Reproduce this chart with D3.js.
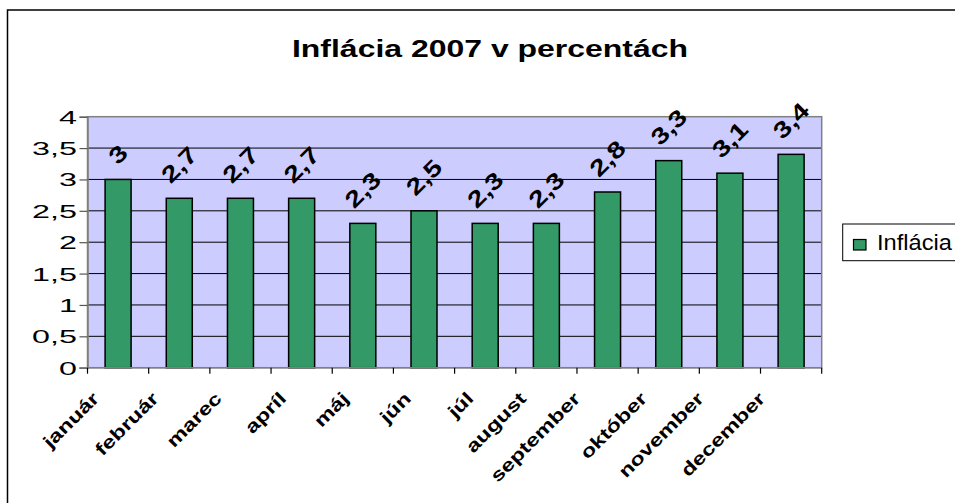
<!DOCTYPE html>
<html><head><meta charset="utf-8">
<script src="https://cdn.jsdelivr.net/npm/d3@7"></script>
<style>body{margin:0;background:#fff}svg{display:block}text{font-family:"Liberation Sans",Arial,sans-serif}</style>
</head><body>
<script>
const categories = ["január","február","marec","apríl","máj","jún","júl","august","september","október","november","december"];
const values = [3,2.7,2.7,2.7,2.3,2.5,2.3,2.3,2.8,3.3,3.1,3.4];
const yTicks = [0,0.5,1,1.5,2,2.5,3,3.5,4];
const title = "Inflácia 2007 v percentách";
const seriesName = "Inflácia";

const W=955,H=503;
const svg=d3.select("body").append("svg").attr("width",W).attr("height",H);
const fmt = v => String(v).replace(".", ",");

// outer chart border
svg.append("rect").attr("x",7.5).attr("y",10).attr("width",960).attr("height",510)
  .attr("fill","#fff").attr("stroke","#000").attr("stroke-width",1.5);

const L=87.5,R=821.7,T=116.7,B=367.7;
const x=d3.scaleBand().domain(categories).range([L,R]).paddingInner(0.575).paddingOuter(0.2875);
const xb=d3.scaleBand().domain(categories).range([L,R]);
const y=d3.scaleLinear().domain([0,4]).range([B,T]);

// plot area
svg.append("rect").attr("x",L).attr("y",T).attr("width",R-L).attr("height",B-T).attr("fill","#ccccff");
svg.append("g").selectAll("line").data(yTicks.filter(d=>d>0&&d<4)).join("line")
  .attr("x1",L).attr("x2",R).attr("y1",d=>y(d)).attr("y2",d=>y(d)).attr("stroke","#000").attr("stroke-width",1);
svg.append("rect").attr("x",L).attr("y",T).attr("width",R-L).attr("height",B-T).attr("fill","none").attr("stroke","#808080").attr("stroke-width",1.5);

// bars
svg.append("g").selectAll("rect").data(values).join("rect")
  .attr("x",(d,i)=>x(categories[i])).attr("width",x.bandwidth())
  .attr("y",d=>y(d)).attr("height",d=>B-y(d))
  .attr("fill","#339966").attr("stroke","#000").attr("stroke-width",1.5);

// y axis
const ya=svg.append("g").attr("transform",`translate(${L},0)`).call(d3.axisLeft(y).tickValues(yTicks).tickSize(8).tickFormat(""));
ya.select(".domain").attr("stroke","#808080").attr("stroke-width",1.5);
ya.selectAll(".tick line").attr("stroke","#555").attr("stroke-width",1.2);
svg.append("g").selectAll("text").data(yTicks).join("text")
  .attr("transform",d=>`translate(77,${y(d)+7}) scale(1.7,1)`)
  .attr("text-anchor","end").attr("font-size",19).attr("fill","#000").text(fmt);

// x axis
const xa=svg.append("g").attr("transform",`translate(0,${B})`);
xa.append("line").attr("x1",L-8).attr("x2",R).attr("y1",0).attr("y2",0).attr("stroke","#808080").attr("stroke-width",1.5);
const bounds=categories.map(c=>xb(c)).concat([R]);
xa.selectAll(".tk").data(bounds).join("line").attr("class","tk")
  .attr("x1",d=>d).attr("x2",d=>d).attr("y1",0).attr("y2",6).attr("stroke","#000").attr("stroke-width",1.2);
const xl=svg.append("g").selectAll("text").data(categories).join("text")
  .attr("text-anchor","end").attr("font-size",18).attr("font-weight","bold").attr("fill","#000").text(d=>d);
xl.each(function(d){
  const len=this.getComputedTextLength()*1.3;
  const px=xb(d)+xb.bandwidth()/2-6-0.17*len;
  d3.select(this).attr("transform",`translate(${px},${B+32}) rotate(-45) scale(1.3,1)`);
});

// data labels
const lab=svg.append("g").selectAll("text").data(values).join("text")
  .attr("text-anchor","middle").attr("font-size",23).attr("font-weight","bold").attr("fill","#000")
  .attr("dominant-baseline","central").text(fmt);
lab.each(function(d,i){
  const t=d3.select(this);
  t.attr("transform",`rotate(-45) scale(1.25,1)`);
  const bb=this.getBoundingClientRect();
  const hb=bb.height;
  const cx=x(categories[i])+x.bandwidth()/2;
  const cy=y(d)-10-hb/2;
  t.attr("transform",`translate(${cx},${cy}) rotate(-45) scale(1.25,1)`);
});

// title
svg.append("text").attr("transform","translate(490,57) scale(1.36,1)").attr("text-anchor","middle")
  .attr("font-size",23.5).attr("font-weight","bold").attr("fill","#000").text(title);

// legend
svg.append("rect").attr("x",842.7).attr("y",224).attr("width",130).attr("height",36.7).attr("fill","#fff").attr("stroke","#000").attr("stroke-width",1);
svg.append("rect").attr("x",853.5).attr("y",239.5).attr("width",12.5).attr("height",10.5).attr("fill","#339966").attr("stroke","#000").attr("stroke-width",1.2);
svg.append("text").attr("transform","translate(877,250) scale(1.1,1)").attr("font-size",21.5).attr("fill","#000").text(seriesName);
</script>
</body></html>
